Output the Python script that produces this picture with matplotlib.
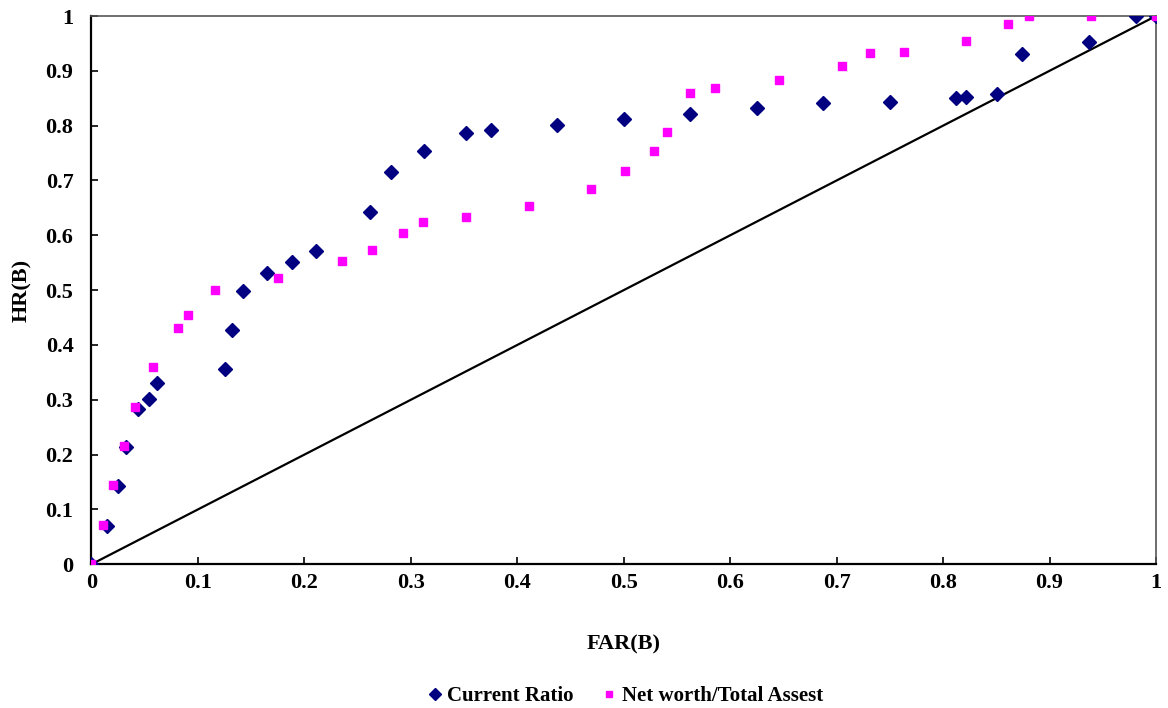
import matplotlib

matplotlib.use("Agg")

import matplotlib.pyplot as plt

# Current Ratio (diamonds)
cr_far = [0.0, 0.015, 0.025, 0.032, 0.044, 0.054, 0.062, 0.125, 0.132, 0.142,
          0.165, 0.188, 0.211, 0.262, 0.281, 0.312, 0.352, 0.375, 0.437, 0.500,
          0.5625, 0.625, 0.6875, 0.750, 0.812, 0.822, 0.851, 0.874, 0.937, 0.981, 1.0]
cr_hr = [0.0, 0.070, 0.142, 0.214, 0.284, 0.302, 0.330, 0.357, 0.428, 0.499,
         0.532, 0.552, 0.572, 0.643, 0.715, 0.753, 0.786, 0.792, 0.801, 0.813,
         0.822, 0.833, 0.841, 0.844, 0.851, 0.853, 0.858, 0.931, 0.952, 1.0, 1.0]

# Net worth / Total Assest (squares)
nw_far = [0.0, 0.0105, 0.0205, 0.031, 0.041, 0.058, 0.081, 0.091, 0.116, 0.175,
          0.235, 0.264, 0.293, 0.311, 0.352, 0.411, 0.469, 0.501, 0.528, 0.541,
          0.5625, 0.586, 0.646, 0.705, 0.731, 0.763, 0.822, 0.861, 0.881, 0.939, 1.0]
nw_hr = [0.0, 0.072, 0.145, 0.215, 0.287, 0.360, 0.431, 0.454, 0.501, 0.523,
         0.554, 0.574, 0.605, 0.625, 0.634, 0.653, 0.685, 0.718, 0.753, 0.788,
         0.859, 0.869, 0.884, 0.908, 0.932, 0.934, 0.954, 0.985, 1.0, 1.0, 1.0]

# random classifier diagonal
diag = [0.0, 1.0]

ticks = [0, 0.1, 0.2, 0.3, 0.4, 0.5, 0.6, 0.7, 0.8, 0.9, 1]
tick_labels = ["0", "0.1", "0.2", "0.3", "0.4", "0.5", "0.6", "0.7", "0.8", "0.9", "1"]

plt.rcParams["font.family"] = ["Liberation Serif", "DejaVu Serif"]
plt.rcParams["font.weight"] = "bold"

fig = plt.figure(figsize=(11.68, 7.08), dpi=100)
ax = fig.add_axes([0.0783, 0.203, 0.9114, 0.7744])

ax.plot(diag, diag, color="black", lw=1.6, marker="^", ms=5,
        mfc="#FFFF00", mec="#FFFF00", zorder=2)
ax.plot(cr_far, cr_hr, linestyle="none", marker="D", ms=7,
        color="#000080", label="Current Ratio", zorder=3)
ax.plot(nw_far, nw_hr, linestyle="none", marker="s", ms=5.2,
        color="#FF00FF", label="Net worth/Total Assest", zorder=4)

ax.set_xlim(0, 1)
ax.set_ylim(0, 1)
ax.set_xticks(ticks)
ax.set_xticklabels(tick_labels)
ax.set_yticks(ticks)
ax.set_yticklabels(tick_labels)
ax.tick_params(direction="in", length=5, width=1.2, labelsize=16)
ax.tick_params(axis="x", pad=6)
ax.tick_params(axis="y", pad=13)

for side in ["left", "bottom"]:
    ax.spines[side].set_linewidth(1.6)
    ax.spines[side].set_color("black")
for side in ["top", "right"]:
    ax.spines[side].set_linewidth(1.2)
    ax.spines[side].set_color("#555555")

ax.set_xlabel("FAR(B)", fontsize=16, fontweight="bold", labelpad=30)
ax.set_ylabel("HR(B)", fontsize=16, fontweight="bold", labelpad=10)

leg = fig.legend(loc="center", bbox_to_anchor=(0.534, 0.017), ncol=2,
                 frameon=False, fontsize=15, handletextpad=0.1,
                 columnspacing=1.2, handlelength=1.0, markerscale=0.85)

fig.savefig("out.png", dpi=100)
